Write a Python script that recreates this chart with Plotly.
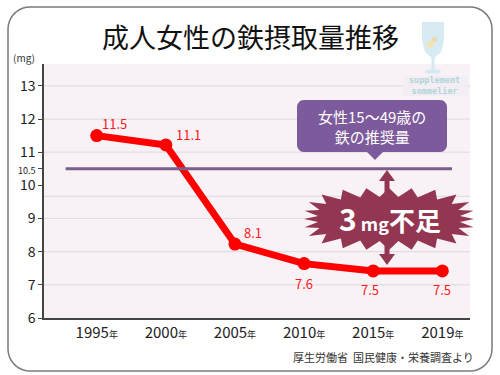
import numpy as np
import plotly.graph_objects as go

# ---- data ----
years = ["1995", "2000", "2005", "2010", "2015", "2019"]
iron_plot = [11.5, 11.22, 8.23, 7.64, 7.42, 7.42]   # positions as drawn
iron_labels = ["11.5", "11.1", "8.1", "7.6", "7.5", "7.5"]
recommended = 10.5
y_ticks = [6, 7, 8, 9, 10, 10.5, 11, 12, 13]
grid_vals = [7, 8, 9, 9.67, 11, 12, 13]

W, H = 500, 375
L, R, T, B = 44, 30, 64, 57
PW, PH = W - L - R, H - T - B
FONT = "Noto Sans CJK JP"


def P(px, py):
    return (px - L) / PW, (H - B - py) / PH


def path_from(points, close=True):
    s = ""
    for i, (px, py) in enumerate(points):
        x, y = P(px, py)
        s += ("M" if i == 0 else "L") + f"{x:.5f},{y:.5f} "
    return s + ("Z" if close else "")


def rounded_rect_pts(x0, y0, x1, y1, r, n=6, pointer=None):
    pts = []
    corners = [((x1 - r, y0 + r), -90, 0), ((x1 - r, y1 - r), 0, 90),
               ((x0 + r, y1 - r), 90, 180), ((x0 + r, y0 + r), 180, 270)]
    for idx, ((cx, cy), a0, a1) in enumerate(corners):
        for a in np.linspace(np.radians(a0), np.radians(a1), n):
            pts.append((cx + r * np.cos(a), cy + r * np.sin(a)))
        if idx == 1 and pointer is not None:
            px, tip = pointer
            pts.append((px + 8, y1))
            pts.append((px, tip))
            pts.append((px - 8, y1))
    return pts


def note(text, px, py, size, color="#333333", xanchor="center", **kw):
    x, y = P(px, py)
    d = dict(text=text, x=x, y=y, xref="paper", yref="paper", showarrow=False,
             xanchor=xanchor, yanchor="middle", font=dict(family=FONT, size=size, color=color))
    d.update(kw)
    return d


fig = go.Figure()

x_idx = list(range(len(years)))
fig.add_trace(go.Scatter(
    x=x_idx, y=iron_plot, mode="lines+markers",
    line=dict(color="#ff0000", width=7),
    marker=dict(color="#ff0000", size=13),
    hoverinfo="skip", showlegend=False, cliponaxis=False))

# recommended line
fig.add_trace(go.Scatter(
    x=[-0.45, 5.14], y=[recommended, recommended], mode="lines",
    line=dict(color="#7a5f8c", width=3), hoverinfo="skip", showlegend=False))

shapes = []
for g in grid_vals:
    shapes.append(dict(type="line", xref="paper", yref="y", x0=0, x1=1, y0=g, y1=g,
                       line=dict(color="#e2dde2", width=1.2), layer="below"))

# outer frame
shapes.append(dict(type="path", xref="paper", yref="paper",
                   path=path_from(rounded_rect_pts(8, 7, 492, 371, 22, n=10)),
                   line=dict(color="#7a7a7a", width=1.5), fillcolor="rgba(0,0,0,0)", layer="below"))

# callout box
shapes.append(dict(type="path", xref="paper", yref="paper",
                   path=path_from(rounded_rect_pts(297, 100, 447, 152, 7, pointer=(375, 160))),
                   line=dict(width=0), fillcolor="#7d5a9c"))

# starburst
cx, cy = 389, 219
n_sp = 24
pts = []
for k in range(2 * n_sp):
    a = np.pi * k / n_sp
    ca, sa = np.cos(a), np.sin(a)
    e = 3.0
    rr = (abs(ca) ** e + abs(sa) ** e) ** (-1 / e)
    rx, ry = (85, 31) if k % 2 == 0 else (71, 22)
    pts.append((cx + rx * rr * ca, cy + ry * rr * sa))
shapes.append(dict(type="path", xref="paper", yref="paper", path=path_from(pts),
                   line=dict(width=0), fillcolor="#933652"))

# double arrow
ax = 387
arrow = [(ax, 170), (ax + 8, 181), (ax + 2.5, 181), (ax + 2.5, 254), (ax + 8, 254),
         (ax, 265), (ax - 8, 254), (ax - 2.5, 254), (ax - 2.5, 181), (ax - 8, 181)]
shapes.append(dict(type="path", xref="paper", yref="paper", path=path_from(arrow),
                   line=dict(width=0), fillcolor="#933652"))

# watermark
wm = "#d4e9f1"
shapes.append(dict(type="rect", xref="paper", yref="paper",
                   x0=P(403, 0)[0], x1=P(468, 0)[0], y0=P(0, 96)[1], y1=P(0, 76)[1],
                   line=dict(width=0), fillcolor="#f3eef3", layer="below"))
bowl = [(422, 22), (444, 22), (444, 40), (441, 52), (434, 58), (432, 58), (425, 52), (422, 40)]
shapes.append(dict(type="path", xref="paper", yref="paper", path=path_from(bowl),
                   line=dict(width=0), fillcolor=wm, opacity=0.9))
shapes.append(dict(type="rect", xref="paper", yref="paper",
                   x0=P(431.5, 0)[0], x1=P(434.5, 0)[0], y0=P(0, 70)[1], y1=P(0, 57)[1],
                   line=dict(width=0), fillcolor=wm))
shapes.append(dict(type="path", xref="paper", yref="paper",
                   path=path_from([(424, 72), (428, 69.5), (438, 69.5), (442, 72), (438, 73.5), (428, 73.5)]),
                   line=dict(width=0), fillcolor=wm))
shapes.append(dict(type="circle", xref="paper", yref="paper",
                   x0=P(427, 0)[0], x1=P(434, 0)[0], y0=P(0, 48)[1], y1=P(0, 41)[1],
                   line=dict(width=0), fillcolor="#f1e3b8"))
shapes.append(dict(type="circle", xref="paper", yref="paper",
                   x0=P(432, 0)[0], x1=P(437, 0)[0], y0=P(0, 42)[1], y1=P(0, 37)[1],
                   line=dict(width=0), fillcolor="#efd9a6"))

annotations = [
    note("成人女性の鉄摂取量推移", 250, 37, 27, "#111111"),
    note("(mg)", 24, 57, 10),
    dict(note("<b>supplement<br>sommelier</b>", 434, 86, 8.5, "#b8d9dc"),
         font=dict(family="DejaVu Sans Mono", size=8.5, color="#b0d4d8")),
    note("厚生労働省  国民健康・栄養調査より", 476, 357, 11, xanchor="right"),
    note("女性15～49歳の<br>鉄の推奨量", 372, 126, 15, "white"),
    note("<b><span style='font-size:30px'>3</span><span style='font-size:18px'> mg</span>"
         "<span style='font-size:26px'>不足</span></b>", 390, 218, 20, "white"),
]

# data labels
offsets = [(18, 12), (23, 10), (18, 12), (0, -20), (-3, -19), (0, -19)]
for i, (lab, (dx, dy)) in enumerate(zip(iron_labels, offsets)):
    annotations.append(dict(text=lab, x=i, y=iron_plot[i], xref="x", yref="y", showarrow=False,
                            xanchor="center", yanchor="middle",
                            xshift=dx, yshift=dy, font=dict(family=FONT, size=13, color="#ff1a1a")))

tick_text = [("<span style='font-size:9px'>10.5</span>" if v == 10.5 else str(v)) for v in y_ticks]

fig.update_layout(
    width=W, height=H, margin=dict(l=L, r=R, t=T, b=B, autoexpand=False),
    paper_bgcolor="white", plot_bgcolor="#f8f2f6",
    shapes=shapes, annotations=annotations, showlegend=False,
    font=dict(family=FONT, color="#333333"),
    xaxis=dict(range=[-0.763, 5.40], tickvals=x_idx,
               ticktext=[f"{y}<span style='font-size:9px'>年</span>" for y in years],
               showgrid=False, zeroline=False, showline=True, linecolor="#444444", linewidth=1.5,
               ticks="", tickfont=dict(size=15, color="#222222"), fixedrange=True),
    yaxis=dict(range=[6, 13.66], tickvals=y_ticks, ticktext=tick_text, showgrid=False,
               zeroline=False, showline=True, linecolor="#444444", linewidth=1.5,
               ticks="outside", ticklen=4, tickcolor="#444444",
               tickfont=dict(size=14, color="#222222"), fixedrange=True),
)

fig.write_html("out.html", config={"displayModeBar": False},
               post_script="document.body.style.margin='0';document.body.style.padding='0';")
